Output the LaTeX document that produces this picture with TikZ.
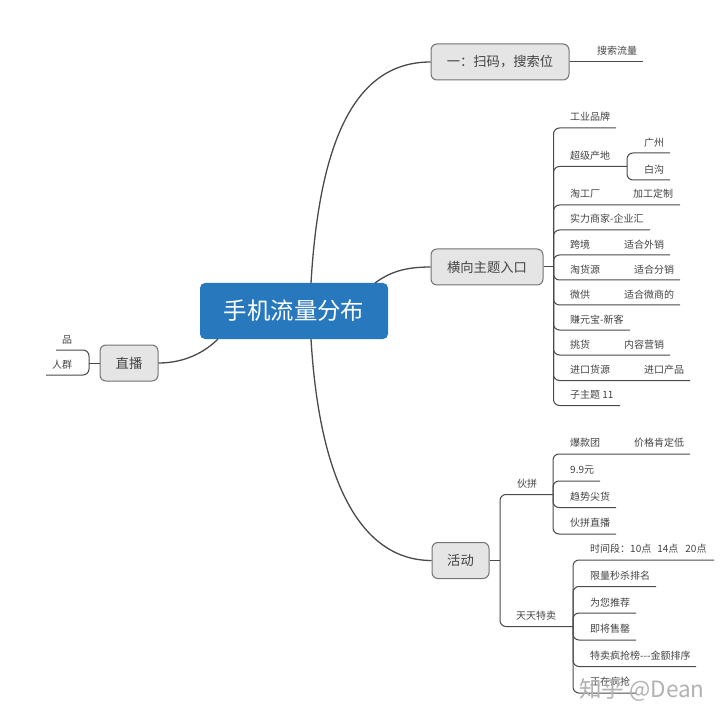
\documentclass[tikz,border=0pt]{standalone}
\usepackage{fontspec}
\setmainfont{Noto Sans CJK SC}
\definecolor{txt}{HTML}{444444}
\definecolor{lne}{HTML}{4A4A4A}
\definecolor{rootblue}{HTML}{2878BE}
\newcommand{\fwcolon}{\char"FF1A\relax}
\newcommand{\fwcomma}{\char"FF0C\relax}
\tikzset{
  conn/.style={draw=lne,line width=1pt,rounded corners=6pt},
  curve/.style={draw=lne,line width=1.3pt},
  leaf/.style={anchor=west,inner sep=0pt,text=txt,font=\fontsize{10}{12}\selectfont},
  branch/.style={draw=gray!90!black,fill=gray!20,line width=1pt,rounded corners=6pt,inner sep=0pt,text=txt,font=\fontsize{13.3}{16}\selectfont},
  root/.style={fill=rootblue,rounded corners=5pt,inner sep=0pt,text=white,font=\fontsize{23.4}{28}\selectfont},
  wmark/.style={inner sep=0pt,text=gray!60,font=\fontsize{22.5}{27}\selectfont}
}
% name, junction, text x, text y, line y, line end x, text
\newcommand{\lf}[7]{%
  \node[leaf] (#1) at (#3,#4) {#7};
  \coordinate (#1e) at (#6,#5);
  \draw[conn] (#2) |- (#1e);
}
\begin{document}
\begin{tikzpicture}[x=1pt,y=-1pt]
\useasboundingbox (0,0) rectangle (720,719);
\fill[white] (0,0) rectangle (720,719);
% boxes
\node[root,minimum width=188pt,minimum height=56pt] (r) at (294,311) {手机流量分布};
\node[branch,minimum width=138pt,minimum height=36pt] (b1) at (500,62) {一\fwcolon 扫码\fwcomma 搜索位};
\node[branch,minimum width=112pt,minimum height=36pt] (b2) at (487,267) {横向主题入口};
\node[branch,minimum width=57pt,minimum height=36pt] (b3) at (460.5,560.5) {活动};
\node[branch,minimum width=58pt,minimum height=36pt] (b4) at (129,363) {直播};
% main curves
\coordinate (r1) at (311,283);
\coordinate (r2) at (375,283);
\coordinate (r3) at (311,339);
\coordinate (r4) at (218,339);
\draw[curve] (r1) .. controls (320,130) and (360,62) .. (b1.west);
\draw[curve] (r2) .. controls (390,272) and (405,267) .. (b2.west);
\draw[curve] (r3) .. controls (320,490) and (365,560.5) .. (b3.west);
\draw[curve] (r4) .. controls (205,352) and (185,363) .. (b4.east);
% top branch
\node[leaf] (t1) at (597,51) {搜索流量};
\coordinate (t1e) at (643,62);
\draw[conn] (b1.east) -- (t1e);
% second branch
\coordinate (j2) at (553.5,267);
\draw[conn] (b2.east) -- (j2);
\lf{a1}{j2}{570}{117}{128}{616}{工业品牌}
\lf{a2}{j2}{570}{156}{166.5}{627}{超级产地}
\coordinate (j2a) at (627,166.5);
\lf{a21}{j2a}{644}{143}{153}{670}{广州}
\lf{a22}{j2a}{644}{170}{180}{670}{白沟}
\lf{a3}{j2}{570}{194}{205}{680}{淘工厂}
\node[leaf] (a3b) at (633,194) {加工定制};
\lf{a4}{j2}{570}{219}{230}{650}{实力商家-企业汇}
\lf{a5}{j2}{570}{245}{255}{670}{跨境}
\node[leaf] (a5b) at (624,245) {适合外销};
\lf{a6}{j2}{570}{270}{280}{680}{淘货源}
\node[leaf] (a6b) at (634,270) {适合分销};
\lf{a7}{j2}{570}{295}{305}{680}{微供}
\node[leaf] (a7b) at (624,295) {适合微商的};
\lf{a8}{j2}{570}{320}{330}{630}{赚元宝-新客}
\lf{a9}{j2}{570}{345}{355}{670}{挑货}
\node[leaf] (a9b) at (624,345) {内容营销};
\lf{a10}{j2}{570}{370}{380.5}{690}{进口货源}
\node[leaf] (a10b) at (644,370) {进口产品};
\lf{a11}{j2}{570}{395}{405.5}{620}{子主题 11}
% third branch
\coordinate (j3) at (500,560.5);
\draw[conn] (b3.east) -- (j3);
\node[leaf] (c1) at (517,484) {伙拼};
\coordinate (c1e) at (553,494.5);
\draw[conn] (j3) |- (c1e);
\node[leaf] (c2) at (516,616) {天天特卖};
\coordinate (c2e) at (573,626.5);
\draw[conn] (j3) |- (c2e);
\lf{d1}{c1e}{570}{443}{454}{690}{爆款团}
\node[leaf] (d1b) at (634,443) {价格肯定低};
\lf{d2}{c1e}{570}{470}{481}{600}{9.9元}
\lf{d3}{c1e}{570}{497}{507.5}{616}{趋势尖货}
\lf{d4}{c1e}{570}{523}{534}{616}{伙拼直播}
\lf{e1}{c2e}{590}{549}{560}{714}{时间段\fwcolon 10点\hspace{6pt}14点\hspace{7pt}20点}
\lf{e2}{c2e}{590}{576}{586.5}{656}{限量秒杀排名}
\lf{e3}{c2e}{590}{603}{613}{636}{为您推荐}
\lf{e4}{c2e}{590}{629}{640}{636}{即将售罄}
\lf{e5}{c2e}{590}{656}{666.5}{696}{特卖疯抢榜{-}{-}{-}金额排序}
\lf{e6}{c2e}{590}{682}{693}{636}{正在疯抢}
% left branch
\coordinate (j4) at (89,363);
\draw[conn] (b4.west) -- (j4);
\node[leaf] (f1) at (62,340) {品};
\coordinate (f1e) at (56,350);
\draw[conn] (j4) |- (f1e);
\node[leaf] (f2) at (52,365) {人群};
\coordinate (f2e) at (46,375);
\draw[conn] (j4) |- (f2e);
% watermark
\node[wmark,anchor=west] (wm) at (579,690) {知乎 @Dean};
\end{tikzpicture}
\end{document}
